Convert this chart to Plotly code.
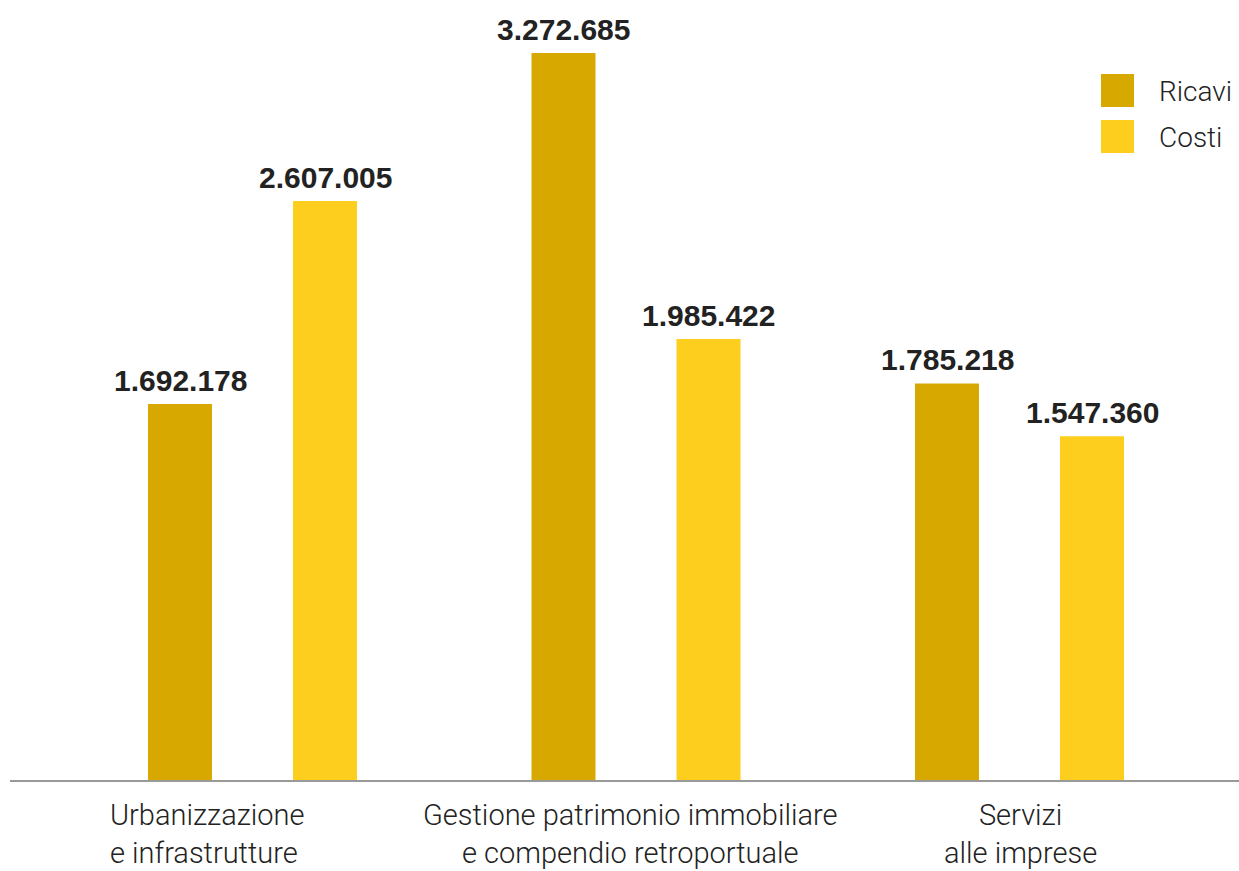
import plotly.graph_objects as go

categories = ["Urbanizzazione<br>e infrastrutture",
              "Gestione patrimonio immobiliare<br>e compendio retroportuale",
              "Servizi<br>alle imprese"]
ricavi = [1692178, 3272685, 1785218]
costi = [2607005, 1985422, 1547360]
series_names = ["Ricavi", "Costi"]
colors = ["#D7A900", "#FECE1E"]

W, H = 1239, 871
L, R, T, B = 10, 0, 0, 91
pw = W - L - R
ph = H - T - B
unit = 383.5            # pixels per category
c0 = 252                # pixel centre of first category
x_lo = -(c0 - L) / unit
x_hi = 2 + (W - R - (c0 + 2 * unit)) / unit
px_per_val = 727 / 3272685
y_hi = ph / px_per_val

bar_w = 64 / unit
offsets = [(148 - c0) / unit, (293 - c0) / unit]

def fmt(v):
    return f"{v:,}".replace(",", ".")

xs = list(range(len(categories)))
fig = go.Figure()
for name, vals, col, off in zip(series_names, [ricavi, costi], colors, offsets):
    fig.add_trace(go.Bar(x=xs, y=vals, name=name, marker_color=col,
                         marker_line_width=0, width=bar_w, offset=off,
                         showlegend=False, hoverinfo="skip"))
    for x, v in zip(xs, vals):
        fig.add_annotation(x=x + off + bar_w / 2, y=v, text=fmt(v),
                           showarrow=False, yanchor="bottom", yshift=5,
                           font=dict(family="Liberation Sans", size=30,
                                     color="#222222", weight="bold"))

# category labels
cat_font = dict(family="Roboto", size=29, color="#222222", weight=300)
for i, cat in enumerate(categories):
    if i == 0:
        fig.add_annotation(x=i, y=0, yref="paper", text=cat, showarrow=False,
                           xanchor="left", align="left", xshift=109 - c0,
                           yanchor="top", yshift=-17, borderpad=0, font=cat_font)
    else:
        fig.add_annotation(x=i, y=0, yref="paper", text=cat, showarrow=False,
                           xanchor="center", align="center", xshift=-5 if i == 1 else 1,
                           yanchor="top", yshift=-17, borderpad=0, font=cat_font)

# legend
def px2x(p):
    return (p - L) / pw

def py2y(p):
    return (T + ph - p) / ph

for k, (name, col) in enumerate(zip(series_names, colors)):
    top = 74 + k * 46
    fig.add_shape(type="rect", xref="paper", yref="paper",
                  x0=px2x(1101), x1=px2x(1134), y0=py2y(top + 33), y1=py2y(top),
                  fillcolor=col, line_width=0)
    fig.add_annotation(xref="paper", yref="paper", x=px2x(1157), y=py2y(top + 17),
                       text=name, showarrow=False, xanchor="left", yanchor="middle",
                       font=dict(family="Roboto", size=28, color="#222222", weight=300))

fig.update_layout(
    width=W, height=H,
    margin=dict(l=L, r=R, t=T, b=B),
    paper_bgcolor="white", plot_bgcolor="white",
    barmode="group",
    xaxis=dict(range=[x_lo, x_hi], showticklabels=False, showgrid=False,
               zeroline=False, showline=True, linecolor="#999999", linewidth=2,
               ticks=""),
    yaxis=dict(range=[0, y_hi], visible=False),
)
fig.write_html("out.html", config={"displayModeBar": False},
               post_script="document.body.style.margin='0';document.body.style.overflow='hidden';")
